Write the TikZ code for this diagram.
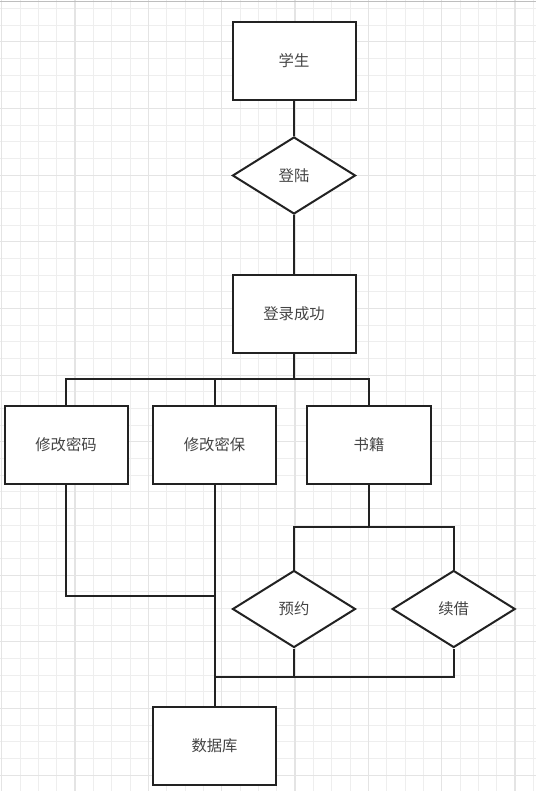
\documentclass[tikz,border=0pt]{standalone}
\usepackage{fontspec}
\setmainfont{Noto Sans CJK SC}
\usetikzlibrary{shapes.geometric}

\definecolor{gridminor}{RGB}{238,238,238}
\definecolor{gridmajor}{RGB}{228,228,228}
\definecolor{edgeline}{RGB}{34,34,34}
\definecolor{labeltext}{RGB}{68,68,68}

\tikzset{
  every picture/.style={line width=0.75pt},
  entitybox/.style={draw=edgeline, line width=1.5pt, fill=white, minimum width=92.25pt, minimum height=58.5pt, inner sep=0pt, text=labeltext, font=\fontsize{11.5}{13}\selectfont},
  relation/.style={draw=edgeline, line width=1.5pt, fill=white, diamond, aspect=1.6, minimum width=92.25pt, minimum height=57.75pt, inner sep=0pt, text=labeltext, font=\fontsize{11.5}{13}\selectfont},
  link/.style={draw=edgeline, line width=1.5pt}
}

\begin{document}
\begin{tikzpicture}[x=0.75pt,y=0.75pt,yscale=-1,xscale=1]
\useasboundingbox (0,0) rectangle (536,791);

% background grid
\foreach \gx in {0,...,29} {
  \draw [gridminor, line width=0.6pt] ({1.7+18.33*\gx},0) -- ({1.7+18.33*\gx},791);
}
\foreach \gy in {0,...,47} {
  \draw [gridminor, line width=0.6pt] (0,{8.3+16.67*\gy}) -- (536,{8.3+16.67*\gy});
}
\foreach \gx in {0,...,7} {
  \draw [gridmajor, line width=0.8pt] ({1.7+73.33*\gx},0) -- ({1.7+73.33*\gx},791);
}
\foreach \gy in {0,...,11} {
  \draw [gridmajor, line width=0.8pt] (0,{41.7+66.67*\gy}) -- (536,{41.7+66.67*\gy});
}
\draw [color={rgb, 255:red, 190; green, 190; blue, 190 }, line width=1pt] (0,1.5) -- (536,1.5);

% entities
\node [entitybox] (student) at (294,60.7) {学生};
\node [relation] (login) at (294,175.5) {登陆};
\node [entitybox] (loginOk) at (294,314) {登录成功};
\node [entitybox] (changePwd) at (66,445) {修改密码};
\node [entitybox] (changeSec) at (214.5,445) {修改密保};
\node [entitybox, minimum width=93pt] (books) at (369,445) {书籍};
\node [relation] (reserve) at (294,609) {预约};
\node [relation] (renew) at (453.7,609) {续借};
\node [entitybox] (database) at (214.5,746) {数据库};

% junction points
\coordinate (busTop) at (294,379.3);
\coordinate (busBook) at (369,527);
\coordinate (joinPwd) at (214.5,595.7);
\coordinate (joinDb) at (214.5,677.3);

% connectors
\draw [link] (student) -- (login);
\draw [link] (login) -- (loginOk);
\draw [link] (loginOk) -- (busTop);
\draw [link] (changePwd) |- (busTop) -| (books);
\draw [link] (changeSec.north) -- (changeSec.north |- busTop);
\draw [link] (changeSec) -- (database);
\draw [link] (changePwd) |- (joinPwd);
\draw [link] (books) -- (busBook);
\draw [link] (reserve) |- (busBook) -| (renew);
\draw [link] (reserve) |- (joinDb) -| (renew);
\end{tikzpicture}
\end{document}
